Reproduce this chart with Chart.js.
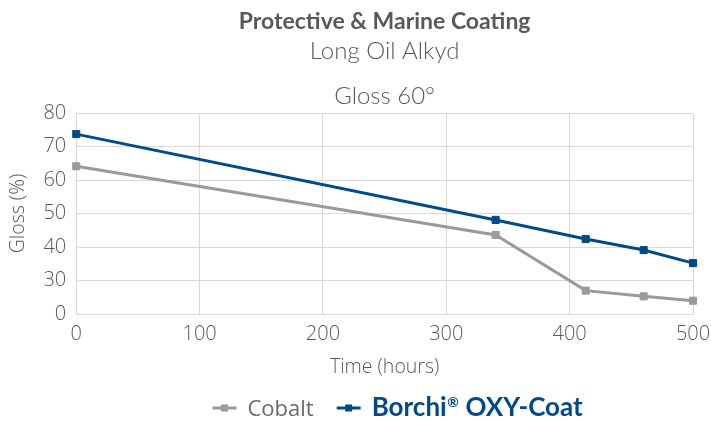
<!DOCTYPE html>
<html>
<head>
<meta charset="utf-8">
<script src="https://cdn.jsdelivr.net/npm/chart.js@4.4.1/dist/chart.umd.min.js"></script>
<style>
  html, body { margin: 0; padding: 0; background: #fff; }
  #wrap { width: 711px; height: 421px; position: relative; }
</style>
</head>
<body>
<div id="wrap"><canvas id="chart"></canvas></div>
<script>
// time in hours
const hours = [0, 340, 413, 460, 500]
// gloss values (axis is drawn 20..80, the bottom tick is labelled "0")
const cobalt = [64.1, 43.6, 27.0, 25.3, 24.0]
const borchi = [73.7, 48.1, 42.4, 39.1, 35.2]
const yTickValues = [20, 30, 40, 50, 60, 70, 80]
const yTickLabels = ['0', '30', '40', '50', '60', '70', '80']
const seriesNames = ['Cobalt', 'Borchi® OXY-Coat']

const GREY = '#9a9a9a'
const BLUE = '#004a87'
const TEXT = '#595959'
const GRID = '#d9d9d9'
const FONT = "'Open Sans', sans-serif"
const TITLE_FONT = "Lato, 'Open Sans', sans-serif"

const toPoints = (values) => hours.map((h, i) => ({ x: h, y: values[i] }))

// Legend drawn by hand so each entry can have its own colour and weight,
// and so the ® can sit as a superscript
const bottomLegend = {
  id: 'bottomLegend',
  afterDraw(chart) {
    const ctx = chart.ctx
    const y = chart.height - 13
    const lineLen = 24
    const gap = 11
    const itemGap = 23
    const items = chart.data.datasets.map((ds, i) => ({
      parts: ds.label.split('®'),
      color: ds.borderColor,
      textColor: i === 0 ? '#6b6b6b' : BLUE,
      font: i === 0 ? `400 22px ${FONT}` : `700 26px ${TITLE_FONT}`,
      supFont: `700 14px ${TITLE_FONT}`,
    }))
    ctx.save()
    const measure = (it) => {
      let w = 0
      it.parts.forEach((p, k) => {
        ctx.font = it.font
        w += ctx.measureText(p).width
        if (k < it.parts.length - 1) {
          ctx.font = it.supFont
          w += ctx.measureText('®').width + 1
        }
      })
      return w
    }
    let total = 0
    items.forEach((it) => {
      it.w = measure(it)
      total += lineLen + gap + it.w
    })
    total += itemGap * (items.length - 1)
    const center = (chart.chartArea.left + chart.chartArea.right) / 2 + 13
    let x = center - total / 2
    items.forEach((it) => {
      ctx.strokeStyle = it.color
      ctx.lineWidth = 3
      ctx.beginPath()
      ctx.moveTo(x, y)
      ctx.lineTo(x + lineLen, y)
      ctx.stroke()
      ctx.fillStyle = it.color
      ctx.fillRect(x + lineLen / 2 - 3.5, y - 3.5, 7, 7)
      x += lineLen + gap
      ctx.fillStyle = it.textColor
      ctx.textBaseline = 'alphabetic'
      ctx.textAlign = 'left'
      const base = y + 8
      it.parts.forEach((p, k) => {
        ctx.font = it.font
        ctx.fillText(p, x, base)
        x += ctx.measureText(p).width
        if (k < it.parts.length - 1) {
          ctx.font = it.supFont
          ctx.fillText('®', x + 0.5, base - 9)
          x += ctx.measureText('®').width + 1
        }
      })
      x += itemGap
    })
    ctx.restore()
  },
}

const ctx = document.getElementById('chart').getContext('2d')
new Chart(ctx, {
  type: 'line',
  data: {
    datasets: [
      {
        label: seriesNames[0],
        data: toPoints(cobalt),
        borderColor: GREY,
        backgroundColor: GREY,
        borderWidth: 3,
        pointStyle: 'rect',
        pointRadius: 5,
        pointBorderWidth: 1,
        tension: 0,
        clip: false,
      },
      {
        label: seriesNames[1],
        data: toPoints(borchi),
        borderColor: BLUE,
        backgroundColor: BLUE,
        borderWidth: 3,
        pointStyle: 'rect',
        pointRadius: 5,
        pointBorderWidth: 1,
        tension: 0,
        clip: false,
      },
    ],
  },
  options: {
    responsive: true,
    maintainAspectRatio: false,
    animation: false,
    layout: {
      padding: { left: 7, right: 0, top: 0, bottom: 42 },
    },
    plugins: {
      legend: { display: false },
      tooltip: { enabled: false },
      title: {
        display: true,
        fullSize: false,
        text: 'Protective & Marine Coating',
        color: TEXT,
        font: { family: TITLE_FONT, size: 23, weight: '700', lineHeight: 1 },
        padding: { top: 10, bottom: 0 },
      },
      subtitle: {
        display: true,
        fullSize: false,
        text: ['Long Oil Alkyd', 'Gloss 60°'],
        color: TEXT,
        font: { family: TITLE_FONT, size: 24, weight: '300', lineHeight: 1.875 },
        padding: { top: -4, bottom: -6 },
      },
    },
    scales: {
      x: {
        type: 'linear',
        min: 0,
        max: 500,
        // let the last tick label run to the canvas edge as in the original
        afterFit(scale) {
          scale.paddingRight = 18
        },
        ticks: {
          stepSize: 100,
          color: TEXT,
          padding: 8,
          font: { family: FONT, size: 20, weight: '300' },
        },
        grid: { color: GRID, drawTicks: false },
        border: { color: GRID },
        title: {
          display: true,
          text: 'Time (hours)',
          color: TEXT,
          font: { family: FONT, size: 19.5, weight: '300' },
          padding: { top: 1.5, bottom: 0 },
        },
      },
      y: {
        min: 20,
        max: 80,
        afterBuildTicks(scale) {
          scale.ticks = yTickValues.map((v) => ({ value: v }))
        },
        ticks: {
          color: TEXT,
          padding: 10,
          font: { family: FONT, size: 20, weight: '300' },
          callback: (value) => yTickLabels[yTickValues.indexOf(value)],
        },
        grid: { color: GRID, drawTicks: false },
        border: { color: GRID },
        title: {
          display: true,
          text: 'Gloss (%)',
          color: TEXT,
          font: { family: FONT, size: 19.5, weight: '300' },
          padding: { top: 0, bottom: 3 },
        },
      },
    },
  },
  plugins: [bottomLegend],
})
</script>
</body>
</html>
